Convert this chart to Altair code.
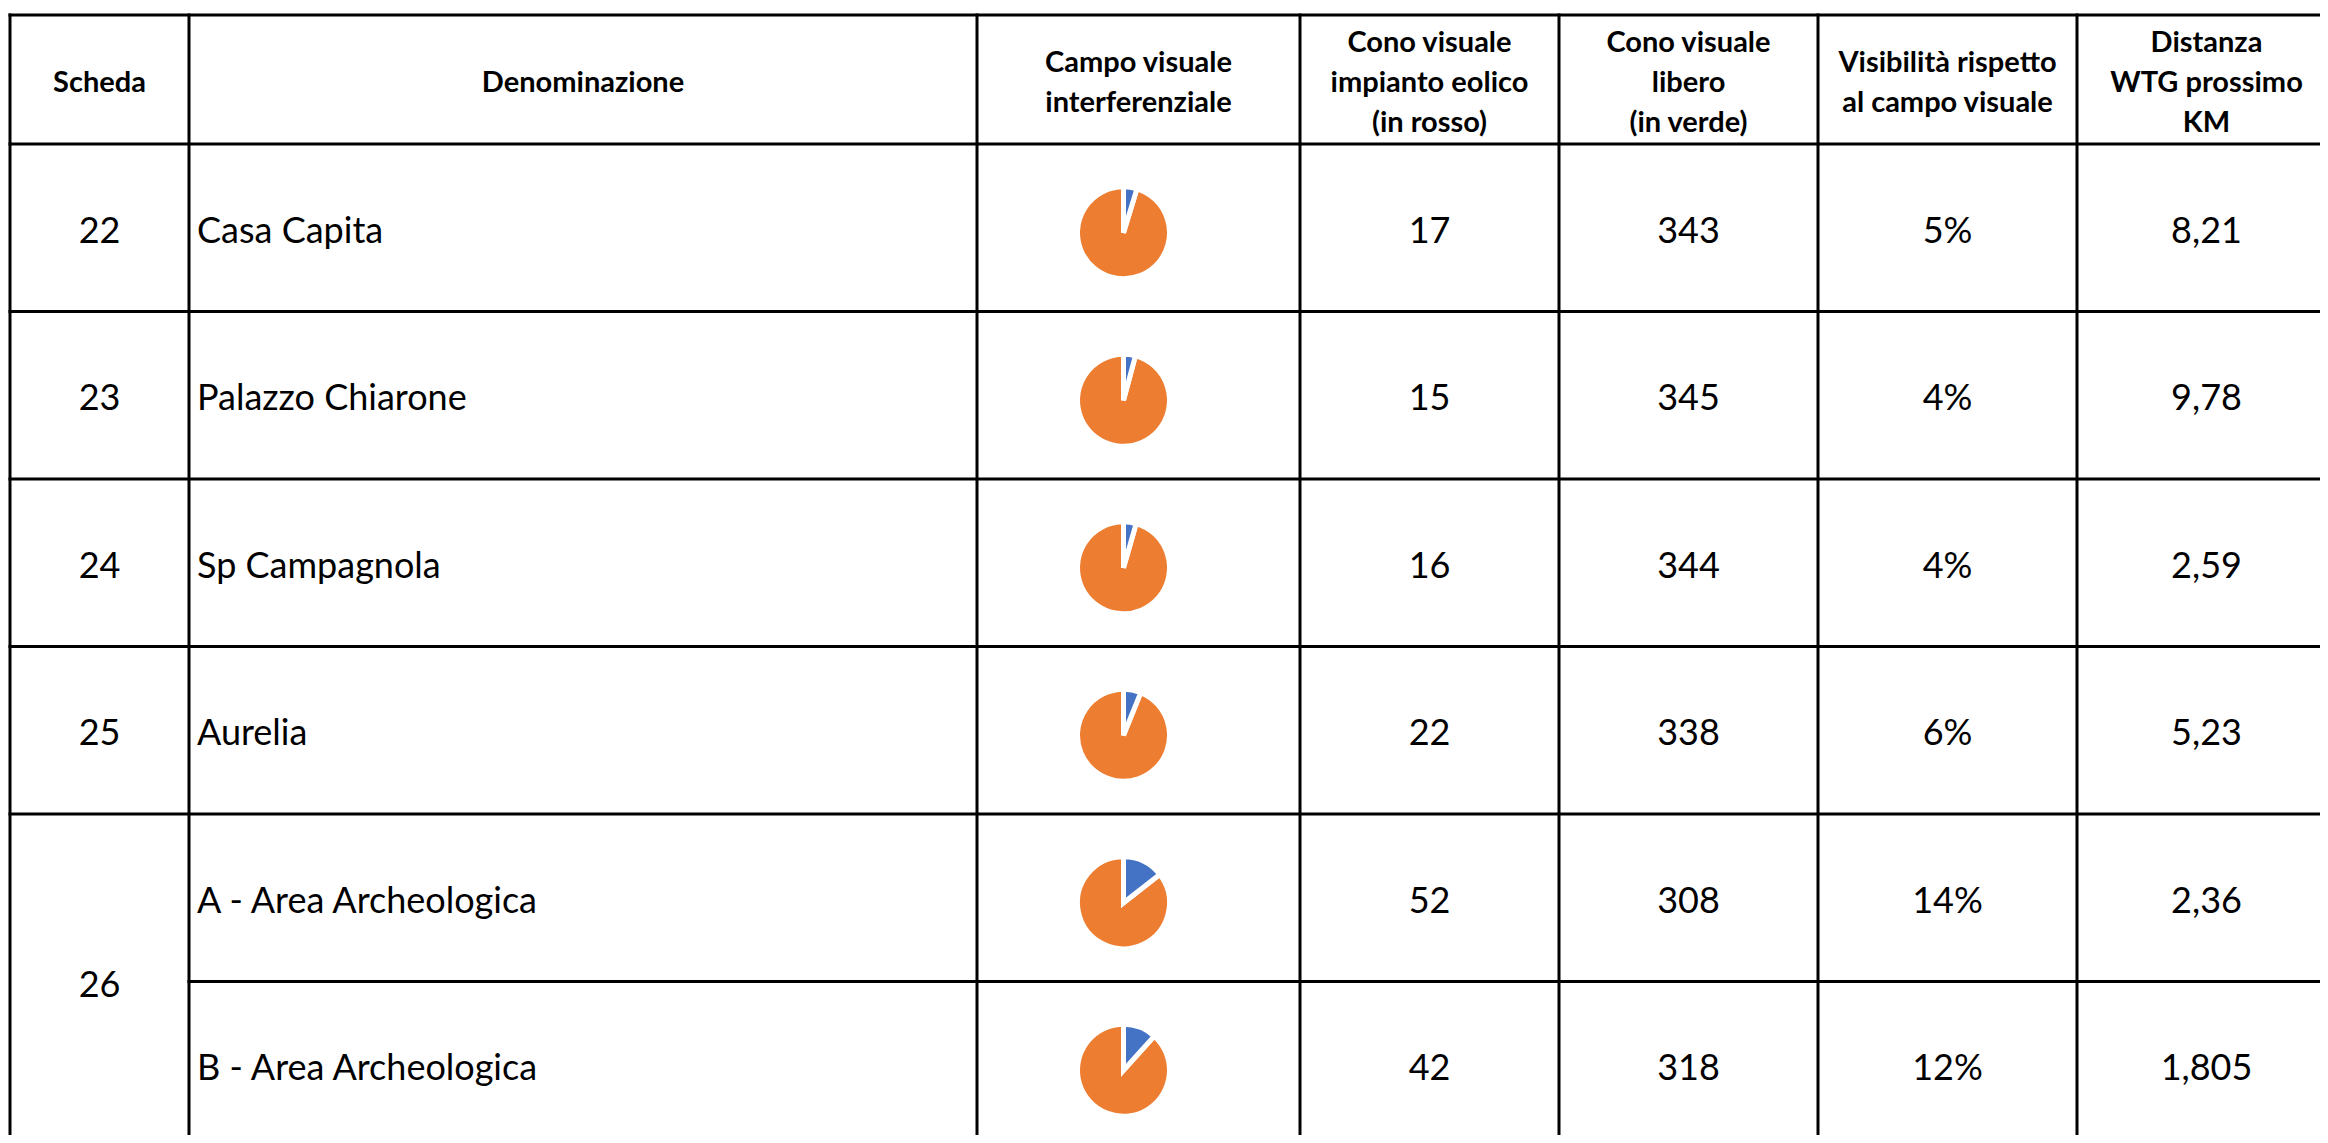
import altair as alt
import numpy as np
import pandas as pd

# ---------------- data ----------------
headers = [
    "Scheda",
    "Denominazione",
    "Campo visuale\ninterferenziale",
    "Cono visuale\nimpianto eolico\n(in rosso)",
    "Cono visuale\nlibero\n(in verde)",
    "Visibilità rispetto\nal campo visuale",
    "Distanza\nWTG prossimo\nKM",
]
scheda = ["22", "23", "24", "25", "26"]
scheda_span = [1, 1, 1, 1, 2]
denominazione = [
    "Casa Capita",
    "Palazzo Chiarone",
    "Sp Campagnola",
    "Aurelia",
    "A - Area Archeologica",
    "B - Area Archeologica",
]
cono_impianto = [17, 15, 16, 22, 52, 42]
cono_libero = [343, 345, 344, 338, 308, 318]
visibilita = ["5%", "4%", "4%", "6%", "14%", "12%"]
distanza = ["8,21", "9,78", "2,59", "5,23", "2,36", "1,805"]

# ---------------- layout ----------------
W, H = 2312, 1127
table_left = 2
table_top = 7
col_widths = [179, 788, 323, 259, 259, 259, 259]
header_h = 129
row_h = 167.5
pie_dx = -15
line_h = 40
FONT = "Lato"

edges = table_left + np.concatenate([[0], np.cumsum(col_widths)])
centers = (edges[:-1] + edges[1:]) / 2
n_rows = len(denominazione)
header_bottom = table_top + header_h
row_tops = header_bottom + np.arange(n_rows) * row_h
row_mid = row_tops + row_h / 2
table_bottom = header_bottom + n_rows * row_h

xs = alt.Scale(domain=[0, W], nice=False, zero=False)
ys = alt.Scale(domain=[0, H], nice=False, zero=False, reverse=True)

# ---------------- grid lines ----------------
vlines = pd.DataFrame({"x": edges, "y": table_top, "y2": table_bottom})

# boundaries inside merged Scheda cells start at the second column
inside = set()
r = 0
for span in scheda_span:
    for k in range(1, span):
        inside.add(r + k)
    r += span
hl = [{"y": table_top, "x": edges[0], "x2": edges[-1]},
      {"y": header_bottom, "x": edges[0], "x2": edges[-1]}]
for i in range(1, n_rows + 1):
    y = header_bottom + i * row_h
    hl.append({"y": y, "x": edges[1] if i in inside else edges[0], "x2": edges[-1]})
hlines = pd.DataFrame(hl)

rule_kw = dict(color="black", strokeWidth=3, strokeCap="square", clip=True)
vrules = alt.Chart(vlines).mark_rule(**rule_kw).encode(
    x=alt.X("x:Q", scale=xs, axis=None),
    y=alt.Y("y:Q", scale=ys, axis=None),
    y2="y2:Q",
)
hrules = alt.Chart(hlines).mark_rule(**rule_kw).encode(
    x=alt.X("x:Q", scale=xs, axis=None),
    x2="x2:Q",
    y=alt.Y("y:Q", scale=ys, axis=None),
)

# ---------------- header text ----------------
hdr_mid = table_top + header_h / 2 + 3
hdr = pd.DataFrame({
    "x": centers,
    "y": [hdr_mid - (h.count("\n")) * line_h / 2 for h in headers],
    "t": headers,
})
header_text = alt.Chart(hdr).mark_text(
    font=FONT, fontSize=29, fontWeight="bold", align="center", baseline="middle",
    lineBreak="\n", lineHeight=line_h, color="black",
).encode(
    x=alt.X("x:Q", scale=xs, axis=None),
    y=alt.Y("y:Q", scale=ys, axis=None),
    text="t:N",
)

# ---------------- body text ----------------
body_rows = []
r = 0
for s, span in zip(scheda, scheda_span):
    body_rows.append({"x": centers[0], "y": row_tops[r] + span * row_h / 2 + 4, "t": s})
    r += span
for i in range(n_rows):
    yy = row_mid[i] + 4
    body_rows.append({"x": centers[3], "y": yy, "t": str(cono_impianto[i])})
    body_rows.append({"x": centers[4], "y": yy, "t": str(cono_libero[i])})
    body_rows.append({"x": centers[5], "y": yy, "t": visibilita[i]})
    body_rows.append({"x": centers[6], "y": yy, "t": distanza[i]})
body = pd.DataFrame(body_rows)
body_text = alt.Chart(body).mark_text(
    font=FONT, fontSize=36, align="center", baseline="middle", color="black",
).encode(
    x=alt.X("x:Q", scale=xs, axis=None),
    y=alt.Y("y:Q", scale=ys, axis=None),
    text="t:N",
)

names = pd.DataFrame({"x": edges[1] + 8, "y": row_mid + 4, "t": denominazione})
name_text = alt.Chart(names).mark_text(
    font=FONT, fontSize=36, align="left", baseline="middle", color="black",
).encode(
    x=alt.X("x:Q", scale=xs, axis=None),
    y=alt.Y("y:Q", scale=ys, axis=None),
    text="t:N",
)

# ---------------- pies ----------------
pie_rows = []
for i in range(n_rows):
    tot = cono_impianto[i] + cono_libero[i]
    f = cono_impianto[i] / tot
    cx = centers[2] + pie_dx
    cy = row_mid[i] + 5
    pie_rows.append({"cx": cx, "cy": cy, "part": "impianto", "t0": 0.0, "t1": f * 2 * np.pi, "o": 1})
    pie_rows.append({"cx": cx, "cy": cy, "part": "libero", "t0": f * 2 * np.pi, "t1": 2 * np.pi, "o": 0})
pies = pd.DataFrame(pie_rows)
pie = alt.Chart(pies).mark_arc(radius=46, stroke="white", strokeWidth=5).encode(
    x=alt.X("cx:Q", scale=xs, axis=None),
    y=alt.Y("cy:Q", scale=ys, axis=None),
    theta=alt.Theta("t0:Q", scale=None),
    theta2="t1:Q",
    color=alt.Color("part:N", scale=alt.Scale(domain=["impianto", "libero"],
                                              range=["#4472C4", "#ED7D31"]), legend=None),
    order=alt.Order("o:Q"),
)

chart = alt.layer(vrules, hrules, pie, header_text, body_text, name_text).properties(
    width=W, height=H, padding=0, background="white"
).configure_view(strokeWidth=0)

chart.save("out.html", embed_options={"renderer": "svg", "actions": False})
